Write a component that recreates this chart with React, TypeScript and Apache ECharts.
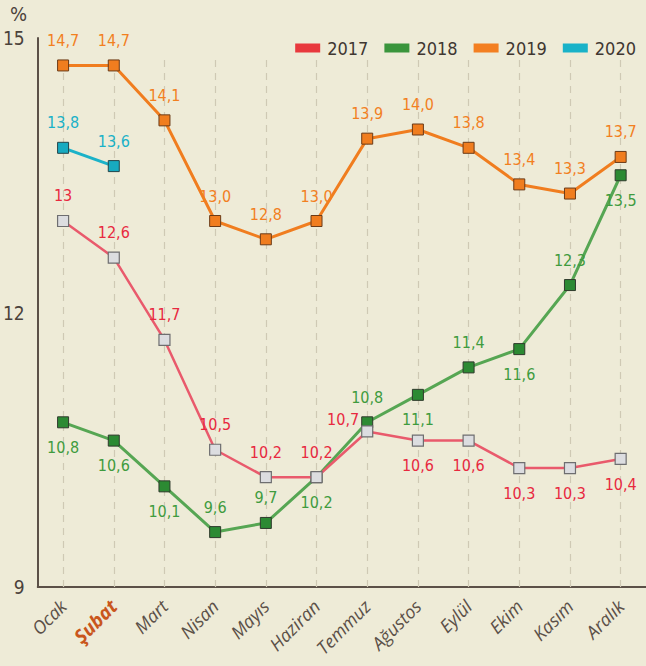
import React, { useEffect, useRef } from "react";
import * as echarts from "echarts";

const months = ["Ocak", "Şubat", "Mart", "Nisan", "Mayıs", "Haziran", "Temmuz", "Ağustos", "Eylül", "Ekim", "Kasım", "Aralık"];
const yAxisTicks = [9, 12, 15];
const v2017 = [13, 12.6, 11.7, 10.5, 10.2, 10.2, 10.7, 10.6, 10.6, 10.3, 10.3, 10.4];
const v2018 = [10.8, 10.6, 10.1, 9.6, 9.7, 10.2, 10.8, 11.1, 11.4, 11.6, 12.3, 13.5];
const v2019 = [14.7, 14.7, 14.1, 13.0, 12.8, 13.0, 13.9, 14.0, 13.8, 13.4, 13.3, 13.7];
const v2020 = [13.8, 13.6];
// label placement per point
const pos2017 = ["top", "top", "top", "top", "top", "top", "left", "bottom", "bottom", "bottom", "bottom", "bottom"];
const pos2018 = ["bottom", "bottom", "bottom", "top", "top", "bottom", "top", "bottom", "top", "bottom", "top", "bottom"];

const NUM_FONT = "'DejaVu Sans Condensed', 'Liberation Sans Narrow', sans-serif";
const fmt = (v: number) => v.toFixed(1).replace(".", ",");

function buildData(vals: number[], positions?: string[], overrides?: Record<number, string>) {
  return vals.map((v, i) => {
    const p = positions ? positions[i] : "top";
    const label: any = { position: p };
    if (p === "left") {
      label.distance = 2;
      label.offset = [0, -12];
    }
    if (overrides && overrides[i] !== undefined) label.formatter = overrides[i];
    return { value: v, label };
  });
}

export default function App() {
  const ref = useRef<HTMLDivElement>(null);
  useEffect(() => {
    if (!ref.current) return;
    const chart = echarts.init(ref.current, null, { renderer: "svg" });
    const labelBase = (color: string) => ({
      show: true,
      color,
      fontSize: 16,
      fontFamily: NUM_FONT,
      distance: 11,
      formatter: (p: any) => fmt(p.value),
    });
    const option: any = {
      animation: false,
      backgroundColor: "#eeebd7",
      grid: { left: 37, top: 38, bottom: 79, width: 614 },
      legend: {
        right: 5,
        top: 34,
        width: 600,
        icon: "rect",
        itemWidth: 25,
        itemHeight: 9,
        itemGap: 16,
        textStyle: { color: "#3f3731", fontSize: 18, fontFamily: NUM_FONT, padding: [0, 0, 0, 2] },
        itemStyle: { borderWidth: 0 },
        data: [
          { name: "2017", itemStyle: { color: "#e8393d", borderWidth: 0 } },
          { name: "2018", itemStyle: { color: "#3a953c", borderWidth: 0 } },
          { name: "2019", itemStyle: { color: "#f37f21", borderWidth: 0 } },
          { name: "2020", itemStyle: { color: "#19b2c8", borderWidth: 0 } },
        ],
      },
      graphic: [
        {
          type: "text",
          left: 10,
          top: 4,
          style: { text: "%", fill: "#4b423b", fontSize: 20, fontFamily: NUM_FONT },
        },
      ],
      xAxis: {
        type: "category",
        data: months,
        boundaryGap: true,
        axisLine: { lineStyle: { color: "#5b5047", width: 2 } },
        axisTick: { show: false },
        splitLine: { show: false },
        axisLabel: {
          rotate: 45,
          margin: 16,
          color: "#5b5048",
          fontSize: 18,
          fontStyle: "italic",
          fontFamily: "'Open Sans', sans-serif",
          formatter: (v: string) => (v === "Şubat" ? "{b|" + v + "}" : v),
          rich: {
            b: { color: "#c9561c", fontWeight: "bold", fontSize: 19, fontStyle: "italic", fontFamily: "'Open Sans', sans-serif" },
          },
        },
      },
      yAxis: {
        type: "value",
        min: yAxisTicks[0],
        max: yAxisTicks[yAxisTicks.length - 1],
        interval: 3,
        axisLine: { show: true, lineStyle: { color: "#5b5047", width: 2 } },
        axisTick: { show: false },
        splitLine: { show: false },
        axisLabel: { color: "#4b423b", fontSize: 19, fontFamily: NUM_FONT, margin: 13 },
      },
      series: [
        {
          name: "grid-lines",
          type: "line",
          data: [],
          silent: true,
          z: 1,
          markLine: {
            silent: true,
            z: 1,
            symbol: "none",
            label: { show: false },
            lineStyle: { color: "#cfc9b4", type: [7, 6], width: 1.2 },
            data: months.map((m) => [
              { xAxis: m, yAxis: 14.76 },
              { xAxis: m, yAxis: 9 },
            ]),
          },
        },
        {
          name: "2018",
          type: "line",
          z: 3,
          symbol: "rect",
          symbolSize: 11,
          data: buildData(v2018, pos2018),
          lineStyle: { color: "#56a653", width: 3 },
          itemStyle: { color: "#2c8a33", borderColor: "#2f3a2c", borderWidth: 1 },
          label: labelBase("#3f9b3e"),
          emphasis: { disabled: true },
        },
        {
          name: "2019",
          type: "line",
          z: 3,
          symbol: "rect",
          symbolSize: 11,
          data: buildData(v2019),
          lineStyle: { color: "#f07d1f", width: 3 },
          itemStyle: { color: "#f07d1f", borderColor: "#6b3b18", borderWidth: 1 },
          label: labelBase("#f2801f"),
          emphasis: { disabled: true },
        },
        {
          name: "2020",
          type: "line",
          z: 3,
          symbol: "rect",
          symbolSize: 11,
          data: buildData(v2020),
          lineStyle: { color: "#1bb2c8", width: 3 },
          itemStyle: { color: "#17aac0", borderColor: "#23454a", borderWidth: 1 },
          label: labelBase("#19b1c8"),
          emphasis: { disabled: true },
        },
        {
          name: "2017",
          type: "line",
          z: 4,
          symbol: "rect",
          symbolSize: 11,
          data: buildData(v2017, pos2017, { 0: "13" }),
          lineStyle: { color: "#e95a6c", width: 2.5 },
          itemStyle: { color: "#dcdde0", borderColor: "#6e6e70", borderWidth: 1.2 },
          label: labelBase("#e8293f"),
          emphasis: { disabled: true },
        },
      ],
    };
    chart.setOption(option);
    return () => chart.dispose();
  }, []);
  return (
    <div
      ref={ref}
      style={{ position: "fixed", left: 0, top: 0, width: 646, height: 666 }}
    />
  );
}
